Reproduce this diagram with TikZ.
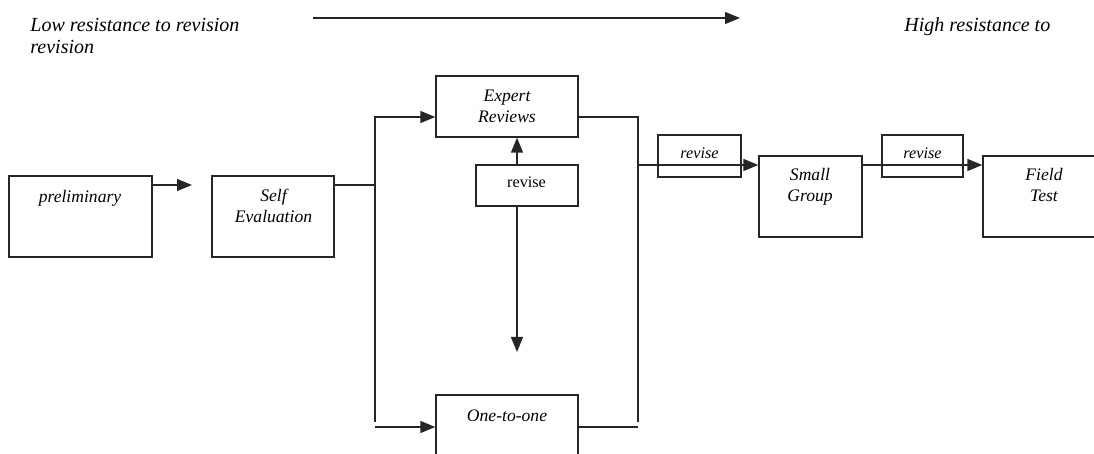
\documentclass[tikz,border=0pt]{standalone}
\usepackage{fontspec}
\setmainfont{Liberation Serif}
\usetikzlibrary{arrows.meta,fit}
\begin{document}
\begin{tikzpicture}[x=0.5pt,y=-0.5pt,
  ln/.style={line width=0.65pt,draw=black!85},
  arr/.style={ln,-{Triangle[length=7.5pt,width=6pt]}},
  box/.style={ln,rectangle,inner sep=0pt,fit={#1}},
  hdr/.style={font=\fontsize{10}{11}\selectfont\itshape,inner sep=0pt,align=left},
  lbl/.style={font=\fontsize{8.8}{10.5}\selectfont\itshape,inner sep=0pt,align=center},
  rlbl/.style={font=\fontsize{8.1}{9.7}\selectfont\itshape,inner sep=0pt},
  ulbl/.style={font=\fontsize{8.1}{9.7}\selectfont,inner sep=0pt}]
\useasboundingbox (0,0) rectangle (1094,454);
\clip (0,0) rectangle (1094,454);
% header
\node[hdr,anchor=base west] (low) at (30,54) {Low resistance to revision\\revision};
\node[hdr,anchor=base west] (high) at (904,32) {High resistance to};
\coordinate (ta) at (313,18);
\coordinate (tb) at (740,18);
\draw[arr] (ta) -- (tb);
% boxes
\node[box={(9,176) (152,257)}] (prelim) {};
\node[box={(212,176) (334,257)}] (self) {};
\node[box={(436,76) (578,137)}] (expert) {};
\node[box={(476,165) (578,206)}] (revmid) {};
\node[box={(436,395) (578,476)}] (one) {};
\node[box={(658,135) (741,177)}] (rev1) {};
\node[box={(759,156) (862,237)}] (small) {};
\node[box={(882,135) (963,177)}] (rev2) {};
\node[box={(983,156) (1105,237)}] (field) {};
% texts
\node[lbl,anchor=base] (prelimt) at (80,203) {preliminary};
\node[lbl,anchor=base] (selft) at (273.5,223) {Self\\Evaluation};
\node[lbl,anchor=base] (expertt) at (507,123) {Expert\\Reviews};
\node[ulbl,anchor=base] (revmidt) at (526.5,188) {revise};
\node[lbl,anchor=base] (onet) at (507,422) {One-to-one};
\node[rlbl,anchor=base] (rev1t) at (699.5,159) {revise};
\node[lbl,anchor=base] (smallt) at (810,202) {Small\\Group};
\node[rlbl,anchor=base] (rev2t) at (922.5,159) {revise};
\node[lbl,anchor=base] (fieldt) at (1044,202) {Field\\Test};
% connectors
\coordinate (p1) at (192,185);
\draw[arr] (p1 -| prelim.east) -- (p1);
\coordinate (br) at (375,185);
\draw[ln] (br -| self.east) -- (br);
\coordinate (bt) at (375,117);
\coordinate (bb) at (375,422);
\draw[arr] (bb) -- (bt) -- (bt -| expert.west);
\coordinate (bl) at (375,427);
\draw[arr] (bl) -- (bl -| one.west);
\coordinate (mt) at (638,117);
\coordinate (mb) at (638,422);
\draw[ln] (mt -| expert.east) -- (mt) -- (mb);
\coordinate (ml) at (638,427);
\draw[ln] (ml -| one.east) -- (ml);
\coordinate (mm) at (638,165);
\draw[arr] (mm) -- (mm -| small.west);
\draw[arr] (small.east |- mm) -- (field.west |- mm);
\coordinate (ru) at (517,165);
\coordinate (rd) at (517,352);
\draw[arr] (revmid.north -| ru) -- (expert.south -| ru);
\draw[arr] (revmid.south -| ru) -- (rd);
\end{tikzpicture}
\end{document}
